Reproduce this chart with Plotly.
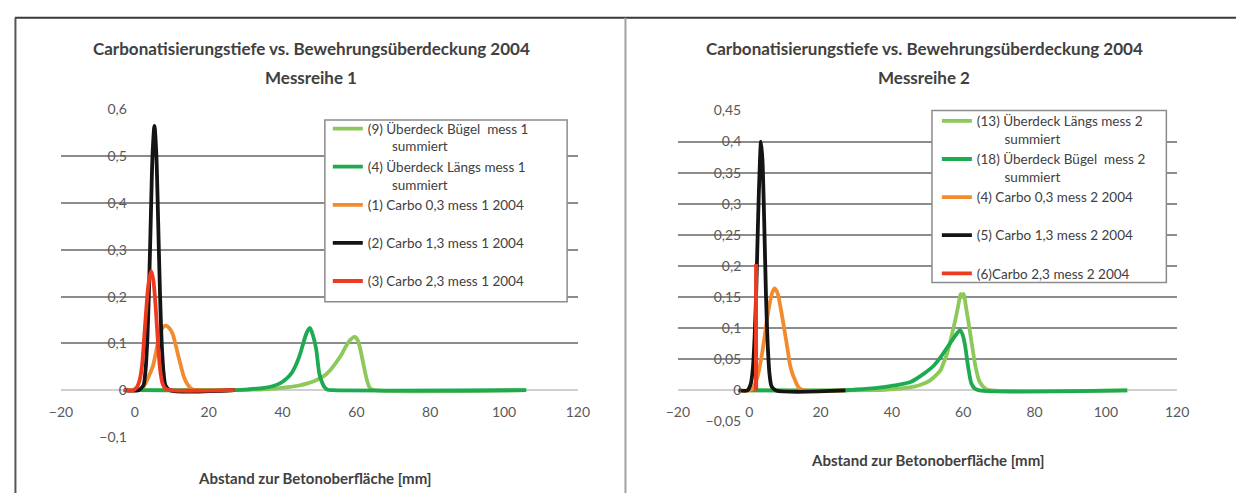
import plotly.graph_objects as go

W, H = 1248, 501

# ---------------- data: Messreihe 1 ----------------
m1_buegel_x = [0, 27, 32, 35, 38.5, 42, 44.5, 46.5, 48.5, 50, 51.5, 52.7, 54.4, 55.8, 57.1, 58.4, 59.6, 60.4, 61.1, 62, 62.9, 63.7, 65, 106]
m1_buegel_y = [0, 0, 0.001, 0.002, 0.004, 0.007, 0.01, 0.014, 0.019, 0.025, 0.032, 0.041, 0.058, 0.074, 0.093, 0.108, 0.114, 0.106, 0.086, 0.052, 0.02, 0.004, 0, 0]

m1_laengs_x = [0, 27, 31, 35, 37.5, 39.4, 41, 42.5, 43.8, 44.8, 45.6, 46.5, 47.4, 48.2, 49.1, 50, 50.9, 51.5, 52.2, 53.5, 106]
m1_laengs_y = [0, 0, 0.002, 0.005, 0.009, 0.015, 0.024, 0.037, 0.057, 0.078, 0.1, 0.122, 0.133, 0.118, 0.088, 0.034, 0.013, 0.005, 0.001, 0, 0]

m1_c03_x = [-3, 0.5, 2.2, 3.5, 4.9, 6.2, 7.3, 8.4, 9.3, 10.2, 11.1, 12, 13.3, 14.2, 15.1, 16.5, 27]
m1_c03_y = [0, 0, 0.006, 0.025, 0.052, 0.1, 0.131, 0.138, 0.133, 0.121, 0.095, 0.066, 0.028, 0.013, 0.004, 0, 0]

m1_c13_x = [-3, 1, 2.3, 2.8, 3.3, 3.8, 4.3, 4.8, 5.3, 5.8, 6.3, 6.8, 7.3, 7.8, 8.3, 9.5, 27]
m1_c13_y = [0, 0, 0.01, 0.035, 0.095, 0.208, 0.362, 0.506, 0.565, 0.506, 0.362, 0.208, 0.095, 0.035, 0.01, 0, 0]

m1_c23_x = [-3, -0.5, 0.5, 1.3, 1.9, 2.5, 3.1, 3.7, 4.4, 5.0, 5.7, 6.3, 6.9, 7.5, 8.3, 9.5, 27]
m1_c23_y = [0, 0, 0.006, 0.022, 0.05, 0.11, 0.175, 0.228, 0.255, 0.235, 0.17, 0.095, 0.04, 0.014, 0.003, 0, 0]

# ---------------- data: Messreihe 2 ----------------
m2_laengs_x = [0, 27, 33, 38, 42, 46.3, 49, 50.9, 52.5, 53.6, 54.5, 55.4, 56.1, 56.8, 57.5, 58.2, 58.9, 59.3, 59.7, 60.1, 60.9, 61.6, 62.3, 62.9, 63.5, 64.6, 66.4, 68, 106]
m2_laengs_y = [0, 0, 0.0005, 0.001, 0.003, 0.006, 0.011, 0.017, 0.025, 0.032, 0.044, 0.058, 0.072, 0.089, 0.106, 0.125, 0.145, 0.155, 0.15, 0.155, 0.13, 0.105, 0.079, 0.057, 0.037, 0.014, 0.002, 0, 0]

m2_buegel_x = [0, 26.1, 28.9, 35.3, 40.8, 45.4, 49, 51.8, 53.6, 55.4, 57.3, 58.3, 59.1, 59.8, 60.5, 61.4, 62.3, 63.2, 64.5, 106]
m2_buegel_y = [0, 0, 0.001, 0.0036, 0.008, 0.014, 0.027, 0.04, 0.053, 0.068, 0.084, 0.092, 0.097, 0.09, 0.073, 0.037, 0.011, 0.003, 0, 0]

m2_c03_x = [-3, 0, 1, 2.3, 3, 3.7, 4.4, 5, 5.8, 6.5, 7.1, 7.9, 8.7, 9.4, 10.1, 10.8, 11.4, 12.1, 12.8, 13.5, 14.2, 15.5, 27]
m2_c03_y = [0, 0, 0.003, 0.022, 0.04, 0.063, 0.09, 0.115, 0.142, 0.158, 0.164, 0.157, 0.136, 0.113, 0.089, 0.064, 0.042, 0.027, 0.017, 0.008, 0.003, 0, 0]

m2_c13_x = [-3, -0.5, 0.4, 1.0, 1.5, 2.0, 2.5, 3.0, 3.3, 3.7, 4.2, 4.7, 5.2, 5.7, 6.3, 7.5, 27]
m2_c13_y = [0, 0, 0.01, 0.035, 0.085, 0.17, 0.28, 0.37, 0.4, 0.37, 0.27, 0.15, 0.07, 0.025, 0.006, 0, 0]

m2_c23_x = [1.85, 1.9, 1.95]
m2_c23_y = [0, 0.203, 0]

# ---------------- labels ----------------
title_main = "Carbonatisierungstiefe vs. Bewehrungsüberdeckung 2004"
title_sub = ["Messreihe 1", "Messreihe 2"]
x_title = "Abstand zur Betonoberfläche [mm]"
NB = "\u00a0"
names1 = [
    "(9) Überdeck Bügel" + NB + " mess 1<br>" + NB * 7 + "summiert",
    "(4) Überdeck Längs mess 1<br>" + NB * 7 + "summiert",
    "(1) Carbo 0,3 mess 1 2004<br>" + NB,
    "(2) Carbo 1,3 mess 1 2004<br>" + NB,
    "(3) Carbo 2,3 mess 1 2004<br>" + NB,
]
names2 = [
    "(13) Überdeck Längs mess 2<br>" + NB * 8 + "summiert",
    "(18) Überdeck Bügel" + NB + " mess 2<br>" + NB * 8 + "summiert",
    "(4) Carbo 0,3 mess 2 2004<br>" + NB,
    "(5) Carbo 1,3 mess 2 2004<br>" + NB,
    "(6)Carbo 2,3 mess 2 2004<br>" + NB,
]
x_ticks = [-20, 0, 20, 40, 60, 80, 100, 120]
y1_ticks = [-0.1, 0, 0.1, 0.2, 0.3, 0.4, 0.5, 0.6]
y2_ticks = [-0.05, 0, 0.05, 0.1, 0.15, 0.2, 0.25, 0.3, 0.35, 0.4, 0.45]

LIGHT_G = "#8cc85a"
DARK_G = "#1daa52"
ORANGE = "#f28a2e"
BLACK = "#141414"
RED = "#ee3a1e"

FONT = "Lato"
TXT = "#404040"

def px(v):
    return v / W

def py(v):
    return 1 - v / H

fig = go.Figure()

series1 = [
    (m1_buegel_x, m1_buegel_y, LIGHT_G),
    (m1_laengs_x, m1_laengs_y, DARK_G),
    (m1_c03_x, m1_c03_y, ORANGE),
    (m1_c13_x, m1_c13_y, BLACK),
    (m1_c23_x, m1_c23_y, RED),
]
series2 = [
    (m2_laengs_x, m2_laengs_y, LIGHT_G),
    (m2_buegel_x, m2_buegel_y, DARK_G),
    (m2_c03_x, m2_c03_y, ORANGE),
    (m2_c13_x, m2_c13_y, BLACK),
    (m2_c23_x, m2_c23_y, RED),
]

for i, ((xs, ys, c), nm) in enumerate(zip(series1, names1)):
    fig.add_trace(go.Scatter(x=xs, y=ys, mode="lines", name=nm,
                             line=dict(color=c, width=3.8, shape="spline", smoothing=0.8),
                             xaxis="x", yaxis="y", legend="legend", legendgroup="a%d" % i))
for i, ((xs, ys, c), nm) in enumerate(zip(series2, names2)):
    fig.add_trace(go.Scatter(x=xs, y=ys, mode="lines", name=nm,
                             line=dict(color=c, width=3.8,
                                       shape="linear" if c == RED else "spline", smoothing=0.8),
                             xaxis="x2", yaxis="y2", legend="legend2", legendgroup="b%d" % i))

# plot areas (pixel positions of the gridline extents)
L = dict(x0=50, x1=577, ytop=104, ybot=443, yr=[-0.1, 0.6])
R = dict(x0=679, x1=1188, ytop=105, ybot=427, yr=[-0.05, 0.45])

def yzero_px(a):
    lo, hi = a["yr"]
    return a["ybot"] - (0 - lo) / (hi - lo) * (a["ybot"] - a["ytop"])

def xzero_px(a):
    return a["x0"] + (0 - (-20)) / 140 * (a["x1"] - a["x0"])

tickfont = dict(family=FONT, size=14, color="#595959")
common_x = dict(range=[-20, 120], tickvals=x_ticks, showgrid=False, zeroline=False,
                showline=False, ticks="", tickfont=tickfont, anchor="free", ticklabelstandoff=12)
common_y = dict(showgrid=True, gridcolor="#8c8c8c", gridwidth=1.6, zeroline=True,
                zerolinecolor="#d0d0d0", zerolinewidth=1.6, showline=False, ticks="",
                tickfont=tickfont, anchor="free", ticklabelstandoff=8)

fig.update_layout(
    width=W, height=H, margin=dict(l=0, r=0, t=0, b=0),
    paper_bgcolor="white", plot_bgcolor="white", separators=",.",
    xaxis=dict(domain=[px(L["x0"]), px(L["x1"])], position=py(yzero_px(L)), **common_x),
    yaxis=dict(domain=[py(L["ybot"]), py(L["ytop"])], range=L["yr"], tickvals=y1_ticks,
               position=px(xzero_px(L)), **common_y),
    xaxis2=dict(domain=[px(R["x0"]), px(R["x1"])], position=py(yzero_px(R)), **common_x),
    yaxis2=dict(domain=[py(R["ybot"]), py(R["ytop"])], range=R["yr"], tickvals=y2_ticks,
                position=px(xzero_px(R)), **common_y),
    showlegend=True,
    legend=dict(x=px(322), y=py(108), xanchor="left", yanchor="top", bgcolor="rgba(0,0,0,0)",
                borderwidth=0, font=dict(family=FONT, size=13.5, color=TXT), valign="top",
                tracegroupgap=0, traceorder="normal", itemwidth=30),
    legend2=dict(x=px(943), y=py(100), xanchor="left", yanchor="top", bgcolor="rgba(0,0,0,0)",
                 borderwidth=0, font=dict(family=FONT, size=13.5, color=TXT), valign="top",
                 tracegroupgap=0, traceorder="normal", itemwidth=30),
)

shapes = [
    # legend frames
    dict(type="rect", xref="paper", yref="paper", x0=px(319), x1=px(566), y0=py(303), y1=py(115),
         line=dict(color="#8c8c8c", width=1.5), fillcolor="white", layer="above"),
    dict(type="rect", xref="paper", yref="paper", x0=px(938), x1=px(1177), y0=py(283), y1=py(105),
         line=dict(color="#8c8c8c", width=1.5), fillcolor="white", layer="above"),
    # outer frame lines
    dict(type="line", xref="paper", yref="paper", x0=px(3), x1=1, y0=py(9), y1=py(9),
         line=dict(color="#3a3a3a", width=2)),
    dict(type="line", xref="paper", yref="paper", x0=px(3.5), x1=px(3.5), y0=py(9), y1=0,
         line=dict(color="#555555", width=2)),
    dict(type="line", xref="paper", yref="paper", x0=px(625.5), x1=px(625.5), y0=py(9), y1=0,
         line=dict(color="#a0a0a0", width=2)),
]
fig.update_layout(shapes=shapes)

ann = []
for cx, sub in [(305, title_sub[0]), (930, title_sub[1])]:
    ann.append(dict(text="<b>" + title_main + "</b>", x=px(cx), y=py(41), xref="paper", yref="paper",
                    showarrow=False, xanchor="center", yanchor="middle",
                    font=dict(family=FONT, size=17, color=TXT)))
    ann.append(dict(text="<b>" + sub + "</b>", x=px(cx), y=py(71), xref="paper", yref="paper",
                    showarrow=False, xanchor="center", yanchor="middle",
                    font=dict(family=FONT, size=17, color=TXT)))
for cx, axy in [(309, 485), (934, 467)]:
    ann.append(dict(text="<b>" + x_title + "</b>", x=px(cx), y=py(axy), xref="paper", yref="paper",
                    showarrow=False, xanchor="center", yanchor="middle",
                    font=dict(family=FONT, size=15, color=TXT)))
fig.update_layout(annotations=ann)

fig.write_html(
    "out.html",
    config={"displayModeBar": False},
    post_script=(
        "document.documentElement.style.margin='0';document.body.style.margin='0';"
        "document.body.style.overflow='hidden';"
        "var gd=document.getElementsByClassName('plotly-graph-div')[0];"
        "gd.style.position='absolute';gd.style.left='0px';gd.style.top='0px';"
    ),
)
